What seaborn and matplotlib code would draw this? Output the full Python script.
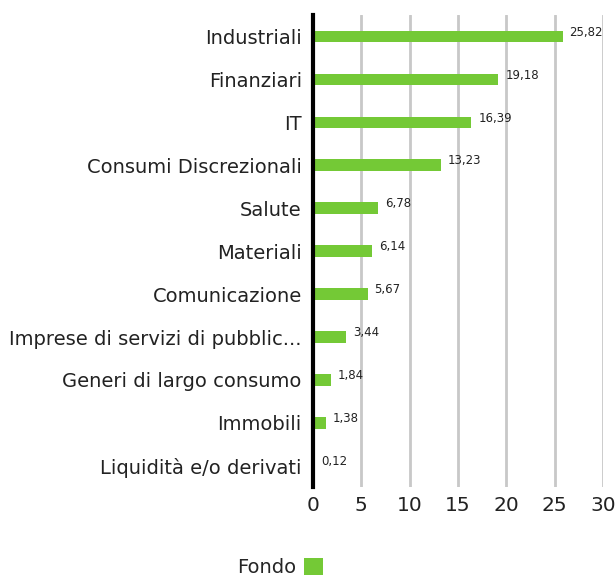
import numpy as np
import matplotlib
matplotlib.use("Agg")
import matplotlib.pyplot as plt
import seaborn as sns
import pandas as pd

settori = ["Industriali", "Finanziari", "IT", "Consumi Discrezionali", "Salute",
           "Materiali", "Comunicazione", "Imprese di servizi di pubblic...",
           "Generi di largo consumo", "Immobili", "Liquidità e/o derivati"]
fondo = [25.82, 19.18, 16.39, 13.23, 6.78, 6.14, 5.67, 3.44, 1.84, 1.38, 0.12]
ticks_x = [0, 5, 10, 15, 20, 25, 30]

verde = "#74c936"

sns.set_style("white")
plt.rcParams['font.family'] = ['DejaVu Sans']

df = pd.DataFrame({"Settore": settori, "Fondo": fondo})

fig = plt.figure(figsize=(6.16, 5.78), dpi=100)
ax = fig.add_axes([0.508, 0.157, 0.471, 0.817])

sns.barplot(data=df, y="Settore", x="Fondo", color=verde, width=0.27,
            saturation=1, linewidth=0, ax=ax, label="Fondo")

for i, v in enumerate(fondo):
    ax.text(v + 0.7, i - 0.1, f"{v:.2f}".replace(".", ","), fontsize=8.5,
            va="center", ha="left", color="#222222")

ax.set_xlim(0, 30)
ax.set_xticks(ticks_x)
ax.set_ylim(len(settori) - 0.5, -0.5)
ax.xaxis.grid(True, color="#c8c8c8", linewidth=2)
ax.set_axisbelow(True)
for s in ["top", "right", "bottom"]:
    ax.spines[s].set_visible(False)
ax.spines["left"].set_color("black")
ax.spines["left"].set_linewidth(3)
ax.spines["left"].set_zorder(5)
ax.tick_params(axis="y", labelsize=14, length=0, pad=8, colors="#222222")
ax.tick_params(axis="x", labelsize=14.5, length=0, pad=6, colors="#222222")
ax.set_xlabel("")
ax.set_ylabel("")
leg = ax.get_legend()
if leg is not None:
    leg.remove()

handles, labels = ax.get_legend_handles_labels()
fig.legend(handles[:1], ["Fondo"], loc="center", bbox_to_anchor=(0.455, 0.018),
           frameon=False, markerfirst=False, fontsize=14, handlelength=1.0,
           handleheight=1.0, handletextpad=0.4)

fig.savefig("out.png", dpi=100)
